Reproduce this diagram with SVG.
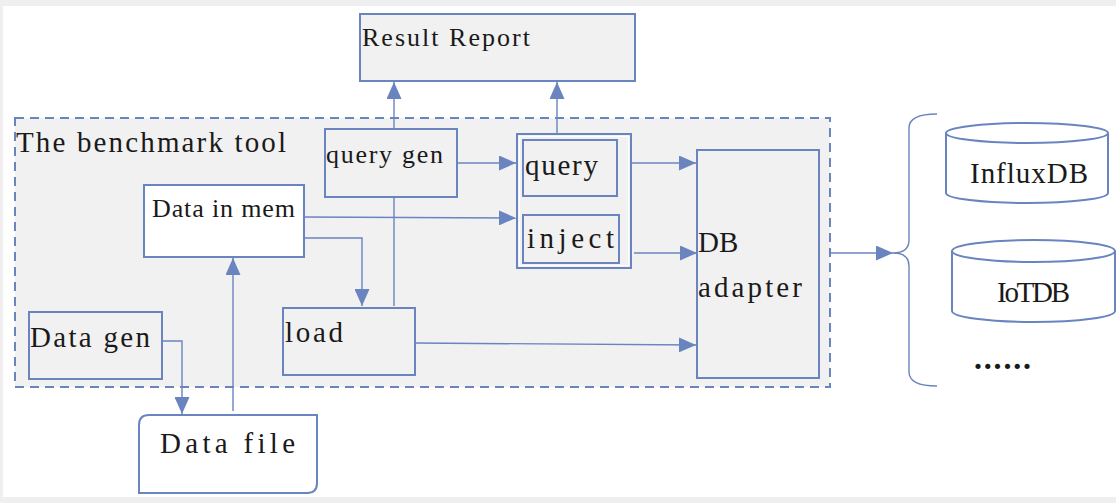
<svg xmlns="http://www.w3.org/2000/svg" width="1116" height="503" viewBox="0 0 1116 503">
<defs>
<marker id="ah" viewBox="0 0 17 15" refX="17" refY="7.5" markerWidth="17" markerHeight="15" markerUnits="userSpaceOnUse" orient="auto">
<path d="M0,0 L17,7.5 L0,15 z" fill="#6a84c0"/>
</marker>
<style>
.box{stroke:#6a84c0;stroke-width:2;fill:#f1f1f1}
.wbox{stroke:#6a84c0;stroke-width:2;fill:#ffffff}
.conn{stroke:#6a84c0;stroke-width:1.4;fill:none}
.t{font-family:"Liberation Serif","Times New Roman",serif;fill:#1a1a1a}
.s{font-size:26px}
.m{font-size:29px}
</style>
</defs>
<rect x="0" y="0" width="1116" height="503" fill="#efefef"/>
<rect x="3" y="6" width="1113" height="491" fill="#ffffff"/>
<g id="benchmark-tool">
<rect x="15" y="118" width="815" height="269" fill="#f1f1f1" stroke="#6a84c0" stroke-width="2" stroke-dasharray="9,6"/>
<text class="t m" x="16" y="152" textLength="270" lengthAdjust="spacing">The benchmark tool</text>
</g>
<g id="connectors">
<path class="conn" d="M394,306 L394,82" marker-end="url(#ah)"/>
<path class="conn" d="M557,134 L557,82" marker-end="url(#ah)"/>
<path class="conn" d="M457,163 L516,163" marker-end="url(#ah)"/>
<path class="conn" d="M304,217 L516,218" marker-end="url(#ah)"/>
<path class="conn" d="M304,238 L362,238 L362,306" marker-end="url(#ah)"/>
<path class="conn" d="M632,163 L696,163" marker-end="url(#ah)"/>
<path class="conn" d="M634,253 L697,253" marker-end="url(#ah)"/>
<path class="conn" d="M415,343 L696,345" marker-end="url(#ah)"/>
<path class="conn" d="M831,253 L893,253" marker-end="url(#ah)"/>
<path class="conn" d="M162,341 L182,341 L182,414" marker-end="url(#ah)"/>
<path class="conn" d="M233,411 L233,258" marker-end="url(#ah)"/>
<path class="conn" d="M937,114 Q909,114 909,128 L909,240 Q909,253 893,253 Q909,253 909,266 L909,372 Q909,386 937,386"/>
</g>
<g id="result-report">
<rect class="box" x="360" y="14" width="275" height="67"/>
<text class="t s" x="362" y="46" textLength="168" lengthAdjust="spacing">Result Report</text>
</g>
<g id="query-gen">
<rect class="box" x="325" y="129" width="132" height="68"/>
<text class="t s" x="326" y="163" textLength="117" lengthAdjust="spacing">query gen</text>
</g>
<g id="executor">
<rect class="box" x="517" y="134" width="114" height="134"/>
<rect x="519.5" y="136.5" width="109" height="129" fill="none" stroke="#ffffff" stroke-width="1.2"/>
</g>
<g id="query">
<rect class="box" x="523" y="140" width="94" height="56"/>
<text class="t m" x="525" y="175" textLength="73" lengthAdjust="spacing">query</text>
</g>
<g id="inject">
<rect class="box" x="523" y="215" width="96" height="48"/>
<text class="t m" x="527" y="248" textLength="87" lengthAdjust="spacing">inject</text>
</g>
<g id="data-in-mem">
<rect class="wbox" x="144" y="185" width="160" height="72"/>
<text class="t s" x="152" y="217" textLength="143" lengthAdjust="spacing">Data in mem</text>
</g>
<g id="load">
<rect class="box" x="283" y="308" width="132" height="67"/>
<text class="t m" x="285" y="342" textLength="58" lengthAdjust="spacing">load</text>
</g>
<g id="db-adapter">
<rect class="box" x="697" y="150" width="122" height="228"/>
<text class="t m" x="698" y="252">DB</text>
<text class="t m" x="698" y="297" textLength="104" lengthAdjust="spacing">adapter</text>
</g>
<g id="data-gen">
<rect class="box" x="29" y="312" width="133" height="67"/>
<text class="t m" x="30" y="347" textLength="120" lengthAdjust="spacing">Data gen</text>
</g>
<g id="data-file">
<path class="wbox" d="M149,415 L317,415 L317,483 Q317,493 307,493 L139,493 L139,425 Q139,415 149,415 z"/>
<text class="t m" x="160" y="453" textLength="135" lengthAdjust="spacing">Data file</text>
</g>
<g id="influxdb">
<path class="wbox" d="M946,133 L946,193 A81,10 0 0 0 1108,193 L1108,133"/>
<ellipse class="wbox" cx="1027" cy="133" rx="81" ry="10"/>
<text class="t m" x="970" y="183" textLength="118" lengthAdjust="spacing">InfluxDB</text>
</g>
<g id="iotdb">
<path class="wbox" d="M952,251 L952,311 A81.5,11 0 0 0 1115,311 L1115,251"/>
<ellipse class="wbox" cx="1033.5" cy="251" rx="81.5" ry="11"/>
<text class="t m" x="997" y="302" textLength="73" lengthAdjust="spacing">IoTDB</text>
</g>
<g id="more">
<text class="t" x="974" y="369" font-size="32" font-weight="bold" textLength="57" lengthAdjust="spacing">......</text>
</g>
</svg>
